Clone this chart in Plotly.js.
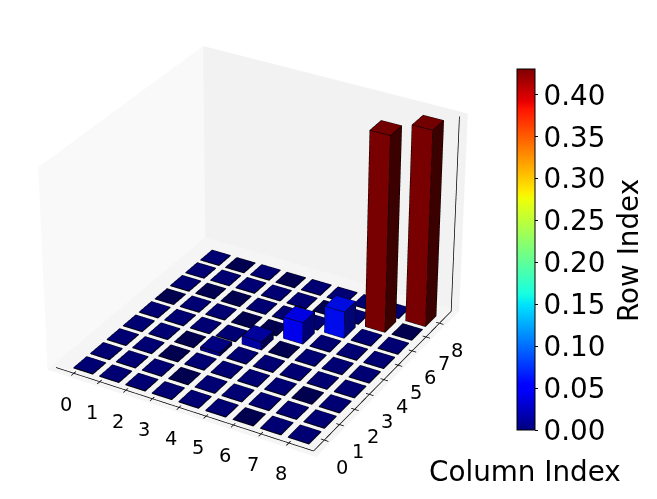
<!DOCTYPE html>
<html>
<head>
<meta charset="utf-8">
<script src="https://cdn.plot.ly/plotly-3.0.1.min.js"></script>
<style>
html, body { margin: 0; background: #fff; overflow: hidden; width: 657px; height: 499px; }
#chart { position: absolute; }
</style>
</head>
<body>
<div id="chart"></div>
<script>
// bar heights, one list per row index (negative = tiny dip, drawn darker)
var row0 = [.001, .001, .001, .001, .001, .001, -.001, .001, .001];
var row1 = [.001, .001, .001, -.001, .001, .001, .001, .001, .001];
var row2 = [.001, .001, -.001, .001, .001, .001, .001, -.001, .001];
var row3 = [.001, .001, -.001, .007, .001, .001, .001, .001, .001];
var row4 = [.001, .001, .001, .001, .018, -.001, .001, .001, .001];
var row5 = [-.001, .001, .001, -.001, -.001, .048, .001, .001, .001];
var row6 = [.001, -.001, -.001, .001, .001, .001, .059, .001, .001];
var row7 = [.001, .001, .001, .001, .001, -.001, .001, .43, -.001];
var row8 = [.001, -.001, .001, -.001, .001, .001, .001, .001, .43];
var rows = [row0, row1, row2, row3, row4, row5, row6, row7, row8];

var tickLabels = ["0", "1", "2", "3", "4", "5", "6", "7", "8"];
var colorTicks = [0, .05, .1, .15, .2, .25, .3, .35, .4];
var colorMax = .431;

// matplotlib jet breakpoints
var jetR = [[0, 0], [.35, 0], [.66, 1], [.89, 1], [1, .5]];
var jetG = [[0, 0], [.125, 0], [.375, 1], [.64, 1], [.91, 0], [1, 0]];
var jetB = [[0, .5], [.11, 1], [.34, 1], [.65, 0], [1, 0]];

function channel(pts, t) {
	for (var n = 1; n < pts.length; n++) {
		if (t <= pts[n][0]) {
			return pts[n - 1][1] + (pts[n][1] - pts[n - 1][1]) * (t - pts[n - 1][0]) / (pts[n][0] - pts[n - 1][0]);
		}
	}
	return pts[pts.length - 1][1];
}

function jetColor(t, shade) {
	t = Math.max(0, Math.min(1, t));
	return "rgb(" + [jetR, jetG, jetB].map(function (c) { return Math.round(channel(c, t) * 255 * shade); }).join(",") + ")";
}

var colorscale = [];
for (var s = 0; s <= 100; s++) {
	colorscale.push([s / 100, jetColor(s / 100, 1)]);
}

// axis box
var xPane = [-.89, 9.08], yPane = [-.89, 9.08], zPane = [-.005, .431];
var xAxisRange = [-.69, 8.88], yAxisRange = [-.69, 8.88], zAxisRange = [-.003, .427];
var xBar = [-.13, .61], yBar = [-.5, .28];

var vx = [], vy = [], vz = [], fi = [], fj = [], fk = [], fc = [];
var ex = [], ey = [], ez = [];
var tipX = [], tipY = [], tipZ = [], tipC = [];

function addFace(p, color) {
	var base = vx.length;
	p.forEach(function (q) { vx.push(q[0]); vy.push(q[1]); vz.push(q[2]); });
	fi.push(base, base); fj.push(base + 1, base + 2); fk.push(base + 2, base + 3);
	fc.push(color, color);
	p.concat([p[0]]).forEach(function (q) { ex.push(q[0]); ey.push(q[1]); ez.push(q[2]); });
	ex.push(null); ey.push(null); ez.push(null);
}

rows.forEach(function (row, r) {
	row.forEach(function (v, c) {
		var x0 = c + xBar[0], x1 = c + xBar[1], y0 = r + yBar[0], y1 = r + yBar[1];
		var t = Math.max(v, 0) / colorMax;
		var topShade = v < 0 ? .62 : .88;
		var z1 = Math.max(v, .0005);
		addFace([[x0, y0, 0], [x1, y0, 0], [x1, y0, z1], [x0, y0, z1]], jetColor(t, .92));
		addFace([[x1, y0, 0], [x1, y1, 0], [x1, y1, z1], [x1, y0, z1]], jetColor(t, .45));
		addFace([[x0, y0, z1], [x1, y0, z1], [x1, y1, z1], [x0, y1, z1]], jetColor(t, topShade));
		tipX.push(c); tipY.push(r); tipZ.push(z1); tipC.push(Math.max(v, 0));
	});
});

var bars = {
	type: "mesh3d", x: vx, y: vy, z: vz, i: fi, j: fj, k: fk, facecolor: fc,
	flatshading: true, hoverinfo: "skip", showscale: false,
	lighting: {ambient: 1, diffuse: 0, specular: 0, roughness: 1, fresnel: 0}
};
var edges = {
	type: "scatter3d", mode: "lines", x: ex, y: ey, z: ez, hoverinfo: "skip", showlegend: false,
	line: {color: "#000", width: 1.3}
};

// axis lines and tick marks
var ax = [], ay = [], az = [];
function seg(a, b) {
	ax.push(a[0], b[0], null); ay.push(a[1], b[1], null); az.push(a[2], b[2], null);
}
var zb = zAxisRange[0];
var yLine = yAxisRange[0], xLine = xAxisRange[1];
seg([xAxisRange[0], yLine, zb], [xAxisRange[1], yLine, zb]);
seg([xLine, yAxisRange[0], zb], [xLine, yAxisRange[1], zb]);
seg([xLine, yAxisRange[1], zAxisRange[0]], [xLine, yAxisRange[1], zAxisRange[1]]);
tickLabels.forEach(function (lab, n) {
	seg([n, yLine - .15, zb], [n, yLine + .12, zb]);
	seg([xLine - .12, n, zb], [xLine + .15, n, zb]);
});
var axisLines = {
	type: "scatter3d", mode: "lines", x: ax, y: ay, z: az, hoverinfo: "skip", showlegend: false,
	line: {color: "#000", width: 1.5}
};

// page is 657x499 but the gl view needs to be far bigger for a long lens
var W = 2380, H = 2230, left = 257 - W / 2, top_ = 242 - H / 2;
var box = document.getElementById("chart");
box.style.left = left + "px";
box.style.top = top_ + "px";

var colorbarTrace = {
	type: "scatter3d", mode: "markers", x: tipX, y: tipY, z: tipZ, hoverinfo: "skip", showlegend: false,
	marker: {
		size: 1, opacity: 0, color: tipC, colorscale: colorscale, cmin: 0, cmax: colorMax, showscale: true,
		colorbar: {
			x: (517 - left) / W, xanchor: "left", xpad: 0, ypad: 0,
			y: 1 - (249.5 - top_) / H, yanchor: "middle",
			thicknessmode: "pixels", thickness: 18, lenmode: "pixels", len: 361,
			outlinewidth: 1, outlinecolor: "#000", ticks: "outside", ticklen: 3, tickcolor: "#000",
			tickvals: colorTicks, ticktext: colorTicks.map(function (v) { return v.toFixed(2); }),
			tickfont: {family: "DejaVu Sans", size: 27.8, color: "#000"}
		}
	}
};

var sceneNotes = [];
tickLabels.forEach(function (lab, n) {
	var font = {family: "DejaVu Sans", size: 19.4, color: "#000"};
	sceneNotes.push({x: n, y: yLine, z: zb, text: lab, showarrow: false, xshift: -8, yshift: -31, font: font});
	sceneNotes.push({x: xLine, y: n, z: zb, text: lab, showarrow: false, xshift: 18, yshift: -27, font: font});
});

function plainAxis(range, bg) {
	return {
		range: range, autorange: false, title: {text: ""}, showgrid: false, zeroline: false, showline: false,
		showticklabels: false, ticks: "", showspikes: false, showbackground: true, backgroundcolor: bg
	};
}

var eyeDist = 8.75;
var bigFont = {family: "DejaVu Sans", size: 27.8, color: "#000"};
var layout = {
	width: W, height: H, autosize: false, showlegend: false,
	margin: {l: 0, r: 0, t: 0, b: 0}, paper_bgcolor: "#fff",
	scene: {
		domain: {x: [0, 1], y: [0, 1]}, bgcolor: "#fff",
		aspectmode: "manual", aspectratio: {x: 1, y: 1, z: .75},
		xaxis: plainAxis(xPane, "#f9f9f9"),
		yaxis: plainAxis(yPane, "#f2f2f2"),
		zaxis: plainAxis(zPane, "#f5f5f5"),
		camera: {
			up: {x: 0, y: 0, z: 1}, center: {x: 0, y: 0, z: 0},
			eye: {x: .433 * eyeDist, y: -.75 * eyeDist, z: .5 * eyeDist},
			projection: {type: "perspective"}
		},
		annotations: sceneNotes
	},
	annotations: [{
		xref: "paper", yref: "paper", xanchor: "left", yanchor: "middle", showarrow: false,
		x: (427 - left) / W, y: 1 - (471 - top_) / H, text: "Column Index", font: bigFont
	}, {
		xref: "paper", yref: "paper", xanchor: "center", yanchor: "middle", showarrow: false, textangle: -90,
		x: (628 - left) / W, y: 1 - (251 - top_) / H, text: "Row Index", font: bigFont
	}]
};

Plotly.newPlot(box, [bars, edges, axisLines, colorbarTrace], layout, {displayModeBar: false});
</script>
</body>
</html>
